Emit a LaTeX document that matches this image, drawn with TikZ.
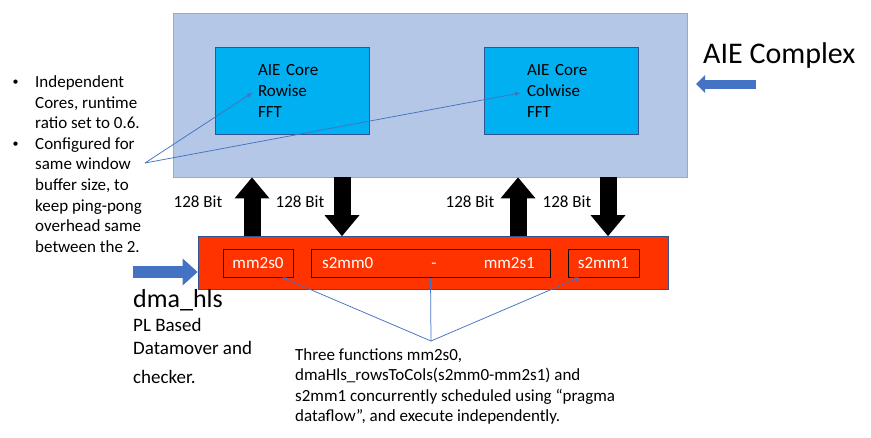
\documentclass[tikz,border=0pt]{standalone}
\usepackage{fontspec}
\setmainfont{Carlito}
\usepackage{xcolor}
\usetikzlibrary{arrows.meta}

\definecolor{complexfill}{HTML}{B4C7E7}
\definecolor{complexline}{HTML}{8FAADC}
\definecolor{corefill}{HTML}{00B0F0}
\definecolor{darkline}{HTML}{2F5597}
\definecolor{plfill}{HTML}{FF3300}
\definecolor{pointerblue}{HTML}{4472C4}

\begin{document}
\begin{tikzpicture}[x=1pt, y=-1pt,
  box/.style={rectangle, draw=darkline, line width=0.8pt},
  core/.style={box, fill=corefill, minimum width=154pt, minimum height=87pt, inner xsep=43pt, text width=68pt, align=left, font=\fontsize{17}{21}\selectfont},
  func/.style={rectangle, draw=black, line width=0.8pt, minimum height=28pt, text=white, font=\fontsize{17}{20}\selectfont},
  functext/.style={text=white, inner sep=0pt, font=\fontsize{17}{20}\selectfont},
  note/.style={align=left, inner sep=0pt, font=\fontsize{17}{20.6}\selectfont},
  dot/.style={inner sep=0pt, font=\fontsize{12}{12}\selectfont},
  bus/.style={line width=17pt, -{Triangle[length=21pt, width=35pt, line width=0pt]}},
  pointer/.style={draw=pointerblue, line width=0.75pt, -{Triangle[length=5pt, width=4pt]}}
]
\path[fill=white, use as bounding box] (0,0) rectangle (871,437);

\node (aie) [box, draw=complexline, fill=complexfill, minimum width=514pt, minimum height=164pt] at (430,95) {};

\node (rowcore) [core] at (292,90.5) {AIE Core\\Rowise\\FFT};

\node (colcore) [core] at (561,90.5) {AIE Core\\Colwise\\FFT};

\node (complex) [note, font=\fontsize{30}{36}\selectfont, anchor=west] at (703,55) {AIE Complex};

\coordinate (complextail) at (756,84);
\coordinate (complextip) at (696,84);

\node (dma) [box, fill=plfill, minimum width=470pt, minimum height=52.5pt] at (433,262.75) {};

\node (mm2s0) [func, minimum width=70pt] at (258,263) {mm2s0};

\node (pair) [func, minimum width=239pt] at (430.5,263) {};

\node (s2mm0) [functext, anchor=west] at (322,263) {s2mm0};

\node (dash) [functext] at (434,266) {-};

\node (mm2s1) [functext, anchor=east] at (535,263) {mm2s1};

\node (s2mm1) [func, minimum width=71pt] at (603.5,263) {s2mm1};

\coordinate (upa) at (252,0);
\coordinate (downa) at (342,0);
\coordinate (upb) at (518,0);
\coordinate (downb) at (608,0);

\node (bita) [note] at (198,202) {128 Bit};
\node (bitb) [note] at (300,202) {128 Bit};
\node (bitc) [note] at (470,202) {128 Bit};
\node (bitd) [note] at (567,202) {128 Bit};

\coordinate (feedtail) at (133,272);

\node (dmalabel) [note, font=\fontsize{26}{30}\selectfont, anchor=west] at (133,300) {dma\_hls};

\node (pllabel) [note, font=\fontsize{19}{23}\selectfont, anchor=north west] at (133,318.5) {PL Based\\Datamover and\\[6pt]checker.};

\node (corenote) [note, anchor=north west] at (35,75.5) {Independent\\Cores, runtime\\ratio set to 0.6.\\Configured for\\same window\\buffer size, to\\keep ping-pong\\overhead same\\between the 2.};

\node (bulleta) [dot] at (15.5,83) {•};
\node (bulletb) [dot] at (15.5,145) {•};

\coordinate (notetip) at (145,163);

\node (dataflow) [note, font=\fontsize{17}{20.5}\selectfont, anchor=north west] at (295,348) {Three functions mm2s0,\\dmaHls\_rowsToCols(s2mm0-mm2s1) and\\s2mm1 concurrently scheduled using “pragma\\dataflow”, and execute independently.};

\coordinate (fntip) at (431,341);

\draw[bus] (dma.north -| upa) -- (aie.south -| upa);
\draw[bus] (aie.south -| downa) -- (dma.north -| downa);
\draw[bus] (dma.north -| upb) -- (aie.south -| upb);
\draw[bus] (aie.south -| downb) -- (dma.north -| downb);

\draw[pointerblue, line width=12pt, -{Triangle[length=15pt, width=27pt, line width=0pt]}] (feedtail) -- (dma.west |- feedtail);
\draw[pointerblue, line width=9pt, -{Triangle[length=9pt, width=18pt, line width=0pt]}] (complextail) -- (complextip);

\draw[pointer] (notetip) -- ([shift={(-40,2.5)}]rowcore.center);
\draw[pointer] (notetip) -- ([shift={(-41,2.5)}]colcore.center);
\draw[pointer] (fntip) -- ([xshift=24pt]mm2s0.south);
\draw[pointer] (fntip) -- (pair.south);
\draw[pointer] (fntip) -- ([xshift=-24pt]s2mm1.south);

\end{tikzpicture}
\end{document}
